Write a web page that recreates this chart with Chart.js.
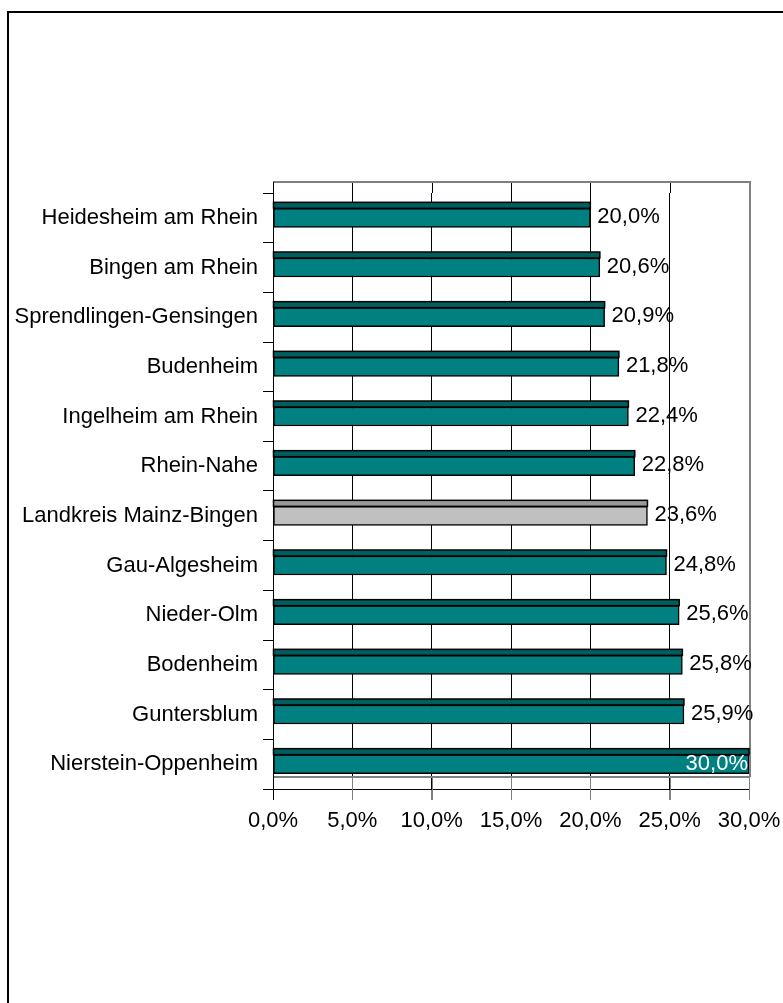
<!DOCTYPE html>
<html>
<head>
<meta charset="utf-8">
<script src="https://cdn.jsdelivr.net/npm/chart.js@4/dist/chart.umd.min.js"></script>
<style>
  html,body{margin:0;padding:0;background:#fff}
  canvas{display:block}
</style>
</head>
<body>
<canvas id="c" width="783" height="1003"></canvas>
<script>
/* ─ data ─ */
const orte=['Heidesheim am Rhein','Bingen am Rhein','Sprendlingen-Gensingen','Budenheim',
  'Ingelheim am Rhein','Rhein-Nahe','Landkreis Mainz-Bingen','Gau-Algesheim',
  'Nieder-Olm','Bodenheim','Guntersblum','Nierstein-Oppenheim'];
const anteile=[20.0,20.6,20.9,21.8,22.4,22.8,23.6,24.8,25.6,25.8,25.9,30.0];
const xTicks=[0,5,10,15,20,25,30];
const kreisName='Landkreis Mainz-Bingen';

const TEAL='#008080', TEAL_TOP='#005e5e', GRAU='#c0c0c0', GRAU_TOP='#9a9a9a';
const FONT="'Liberation Sans',Arial,sans-serif";
const FS=22;
const fmt=v=>v.toFixed(1).replace('.',',')+'%';
const TIEFE=11; // 3D-Tiefe der Rückwand

/* ─ rahmen + 3D-wand ─ */
const wand={
  id:'wand',
  beforeDraw(ch){
    const c=ch.ctx;
    c.save();
    c.strokeStyle='#000';c.lineWidth=2;
    c.beginPath();c.moveTo(8,ch.height);c.lineTo(8,12);c.lineTo(ch.width,12);c.stroke();
    c.restore();
  },
  beforeDatasetsDraw(ch){
    const c=ch.ctx, a=ch.chartArea, sx=ch.scales.x;
    const top=a.top-TIEFE, boden=a.bottom-TIEFE-1;
    c.save();
    // gitter nach oben verlängern
    c.strokeStyle='#000';c.lineWidth=1;
    xTicks.forEach(t=>{
      const px=Math.round(sx.getPixelForValue(t))+0.5;
      c.beginPath();c.moveTo(px,top);c.lineTo(px,a.top);c.stroke();
    });
    // boden: gitter grau
    c.strokeStyle='#808080';
    xTicks.slice(1).forEach(t=>{
      const px=Math.round(sx.getPixelForValue(t))+0.5;
      c.beginPath();c.moveTo(px,boden);c.lineTo(px,a.bottom+11);c.stroke();
    });
    // wand oben + rechts
    c.lineWidth=2;
    c.beginPath();c.moveTo(a.left,top);c.lineTo(a.right+1,top);c.lineTo(a.right+1,boden);c.stroke();
    // bodenkante
    c.beginPath();c.moveTo(a.left,boden);c.lineTo(a.right+1,boden);c.stroke();
    // linke achse
    c.strokeStyle='#000';c.lineWidth=1;
    c.beginPath();c.moveTo(a.left+0.5,top);c.lineTo(a.left+0.5,a.bottom+11);c.stroke();
    c.restore();
  },
  afterDatasetsDraw(ch){
    const c=ch.ctx, a=ch.chartArea;
    const meta=ch.getDatasetMeta(0);
    c.save();
    c.font=`${FS}px ${FONT}`;
    c.textBaseline='middle';
    meta.data.forEach((el,i)=>{
      const {x,y,base,height}=el.getProps(['x','y','base','height'],true);
      // oberseite des 3D-balkens
      const oben=y-height/2;
      c.fillStyle=orte[i]===kreisName?GRAU_TOP:TEAL_TOP;
      c.strokeStyle='#000';c.lineWidth=1.5;
      c.fillRect(base,oben-6,x-base,6);
      c.strokeRect(base,oben-6,x-base,6);
      // wertbeschriftung
      const txt=fmt(anteile[i]);
      const w=c.measureText(txt).width;
      if(x+7+w>a.right+20){
        c.fillStyle='#fff';c.textAlign='right';
        c.fillText(txt,x-1,y);
      }else{
        c.fillStyle='#000';c.textAlign='left';
        c.fillText(txt,x+7,y-1);
      }
    });
    c.restore();
  }
};

new Chart(document.getElementById('c'),{
  type:'bar',
  data:{
    labels:orte,
    datasets:[{
      data:anteile,
      backgroundColor:orte.map(o=>o===kreisName?GRAU:TEAL),
      borderColor:'#000',
      borderWidth:1.5,
      borderSkipped:false,
      barThickness:19
    }]
  },
  options:{
    indexAxis:'y',
    responsive:false,
    animation:false,
    events:[],
    layout:{autoPadding:false,padding:{top:193,left:0,right:34,bottom:0}},
    plugins:{legend:{display:false},tooltip:{enabled:false}},
    scales:{
      x:{
        min:0,max:30,
        afterBuildTicks:s=>{s.ticks=xTicks.map(v=>({value:v}));},
        afterFit:s=>{s.height=1003-789;s.paddingLeft=0;s.paddingRight=0;},
        grid:{color:'#000',tickColor:'#808080',tickLength:11,lineWidth:1},
        border:{display:true,color:'#000',width:1},
        ticks:{color:'#000',font:{family:FONT,size:FS},padding:8,callback:v=>fmt(v),maxRotation:0,autoSkip:false}
      },
      y:{
        afterFit:s=>{s.width=273;},
        grid:{drawOnChartArea:false,color:'#000',tickLength:10,offset:true},
        border:{display:true,color:'#000',width:1},
        ticks:{color:'#000',font:{family:FONT,size:FS},padding:5,autoSkip:false}
      }
    }
  },
  plugins:[wand]
});
</script>
</body>
</html>
